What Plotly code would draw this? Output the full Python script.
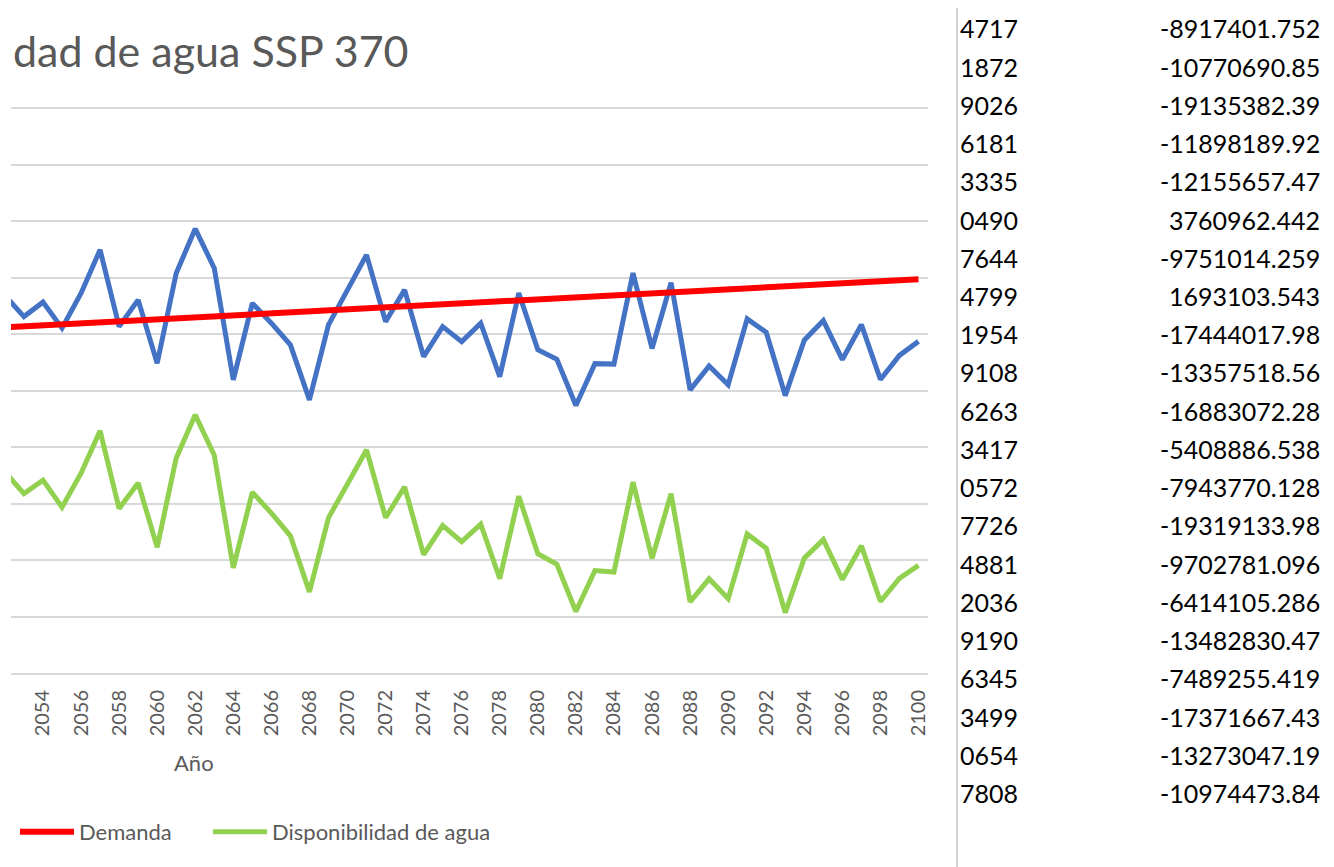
import plotly.graph_objects as go

# Años visibles en el gráfico
anios = list(range(2052, 2101))

# Demanda (millones de m3)
demanda = [61.19, 61.37, 61.55, 61.72, 61.90, 62.08, 62.25, 62.43, 62.61, 62.78,
           62.96, 63.14, 63.31, 63.49, 63.67, 63.84, 64.02, 64.20, 64.38, 64.55,
           64.73, 64.91, 65.08, 65.26, 65.44, 65.61, 65.79, 65.97, 66.14, 66.32,
           66.50, 66.67, 66.85, 67.03, 67.20, 67.38, 67.56, 67.73, 67.91, 68.09,
           68.26, 68.44, 68.62, 68.79, 68.97, 69.15, 69.33, 69.50, 69.68]

# Serie azul (su leyenda queda fuera del recorte)
oferta = [66.80, 63.10, 65.65, 61.04, 67.24, 74.90, 61.33, 66.05, 54.85, 70.78,
          78.62, 71.66, 51.89, 65.47, 61.93, 58.09, 48.35, 61.63, 67.82, 74.02,
          62.21, 67.82, 56.02, 61.33, 58.67, 61.93, 52.48, 67.24, 57.22, 55.55,
          47.36, 54.77, 54.69, 70.79, 57.45, 69.07, 50.12, 54.37, 51.03, 62.68,
          60.32, 49.12, 58.92, 62.38, 55.49, 61.66, 51.96, 56.23, 58.71]

# Disponibilidad de agua
disponibilidad = [35.60, 31.78, 34.15, 29.37, 35.39, 42.87, 29.13, 33.67, 22.29, 38.05,
                  45.71, 38.57, 18.63, 32.03, 28.31, 24.30, 14.38, 27.48, 33.49, 39.52,
                  27.53, 32.96, 20.99, 26.12, 23.28, 26.37, 16.74, 31.32, 21.13, 19.28,
                  10.91, 18.15, 17.89, 33.81, 20.30, 31.74, 12.61, 16.69, 13.17, 24.64,
                  22.11, 10.73, 20.35, 23.64, 16.57, 22.56, 12.68, 16.78, 19.08]

# Etiquetas del eje x
ticks_x = list(range(2052, 2101, 2))

# Celdas de la hoja a la derecha (columna izquierda recortada)
col_izq = ["4717", "1872", "9026", "6181", "3335", "0490", "7644", "4799", "1954",
           "9108", "6263", "3417", "0572", "7726", "4881", "2036", "9190", "6345",
           "3499", "0654", "7808"]
col_der = ["-8917401.752", "-10770690.85", "-19135382.39", "-11898189.92",
           "-12155657.47", "3760962.442", "-9751014.259", "1693103.543",
           "-17444017.98", "-13357518.56", "-16883072.28", "-5408886.538",
           "-7943770.128", "-19319133.98", "-9702781.096", "-6414105.286",
           "-13482830.47", "-7489255.419", "-17371667.43", "-13273047.19",
           "-10974473.84"]

# La página deja 8 px de margen en el body
W, H = 1326, 859
gris = "#595959"


def px(x):
    return (x - 8) / W


def py(y):
    return 1 - (y - 8) / H


fig = go.Figure()
fig.add_trace(go.Scatter(x=anios, y=oferta, mode="lines", name="Oferta",
                         line=dict(color="#4472C4", width=5), showlegend=False))
fig.add_trace(go.Scatter(x=anios, y=demanda, mode="lines", name="Demanda",
                         line=dict(color="#FF0000", width=6), legend="legend"))
fig.add_trace(go.Scatter(x=anios, y=disponibilidad, mode="lines",
                         name="Disponibilidad de agua",
                         line=dict(color="#92D050", width=5), legend="legend2"))

# el título se ve recortado por la izquierda en la captura
anotaciones = [
    dict(text="dad de agua SSP 370", x=px(11), y=py(50),
         xanchor="left", yanchor="middle",
         font=dict(family="Lato", size=43, color=gris)),
    dict(text="Año", x=px(194), y=py(762), xanchor="center", yanchor="middle",
         font=dict(family="Lato", size=22, color=gris)),
]
for i in range(len(col_der)):
    yy = py(28.3 + i * 38.24)
    anotaciones.append(dict(text=col_izq[i], x=px(1020), y=yy, xanchor="right",
                            yanchor="middle",
                            font=dict(family="Lato", size=25, color="#000000")))
    anotaciones.append(dict(text=col_der[i], x=px(1322), y=yy, xanchor="right",
                            yanchor="middle",
                            font=dict(family="Lato", size=25, color="#000000")))
for a in anotaciones:
    a.update(xref="paper", yref="paper", showarrow=False)

leyenda = dict(orientation="h", y=py(832), xanchor="left", yanchor="middle",
               bgcolor="rgba(0,0,0,0)", itemwidth=54,
               font=dict(family="Lato", size=22, color=gris))

fig.update_layout(
    width=W, height=H,
    margin=dict(l=0, r=0, t=0, b=0),
    paper_bgcolor="white", plot_bgcolor="white",
    font=dict(family="Lato", color=gris),
    xaxis=dict(domain=[px(11), px(928)], range=[2052.32, 2100.5],
               tickvals=ticks_x, ticktext=[str(t) for t in ticks_x],
               tickangle=-90, ticks="", ticklabelstandoff=7,
               tickfont=dict(family="Lato", size=20, color=gris),
               showgrid=False, zeroline=False, showline=True,
               linecolor="#d9d9d9", linewidth=1.5, automargin=False),
    yaxis=dict(domain=[py(673.2), py(105)], range=[0, 100.53], dtick=10,
               showticklabels=False, showgrid=True, gridcolor="#d9d9d9",
               gridwidth=1.5, zeroline=False, automargin=False),
    legend=dict(leyenda, x=px(15)),
    legend2=dict(leyenda, x=px(208)),
    annotations=anotaciones,
    shapes=[dict(type="line", xref="paper", yref="paper", x0=px(957), x1=px(957),
                 y0=0, y1=1, line=dict(color="#d4d4d4", width=2))],
)

fig.write_html("out.html")
